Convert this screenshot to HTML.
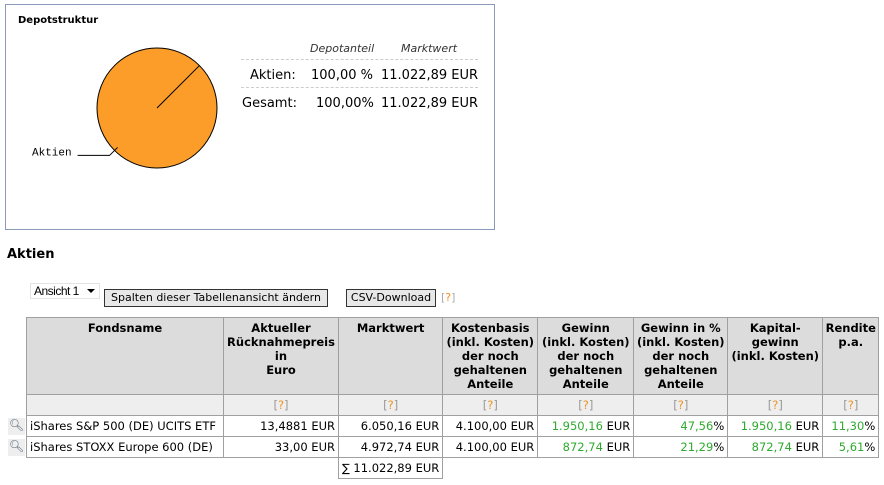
<!DOCTYPE html>
<html><head><meta charset="utf-8">
<style>
body{margin:0;width:884px;height:485px;background:#fff;font-family:"DejaVu Sans","Liberation Sans",sans-serif;position:relative;overflow:hidden;color:#000}
.abs{position:absolute}
#box{left:5px;top:4px;width:488px;height:224px;border:1px solid #8a9ab8}
.dt{font-size:13px;position:absolute;white-space:nowrap}
table#main{position:absolute;left:26px;top:317px;border-collapse:collapse;table-layout:fixed;font-size:11.5px}
#main td,#main th{border:1px solid #a0a0a0;padding:0 3px;white-space:nowrap;overflow:hidden}
#main th{background:#dcdcdc;font-weight:bold;vertical-align:top;text-align:center;line-height:14px;padding:3px 0 0 0;font-size:11.5px}
#main tr.sub td{background:#eeeeee;text-align:center;color:#999;height:20px}
#main tr.d td{height:20px;text-align:right}
.q{color:#aaa}.q b{color:#f0901e;font-weight:normal}
.g{color:#2daa2d}
.btn{position:absolute;border:1px solid #333;background:#e8e8e8;font-size:11px;line-height:16px;padding:0 4px;box-sizing:border-box;white-space:nowrap;text-align:center}
</style></head><body>
<div id="box" class="abs"></div>
<div class="abs" style="left:18px;top:15px;font-size:10px;font-weight:bold">Depotstruktur</div>
<svg class="abs" style="left:0;top:0" width="240" height="200" id="pie"></svg>
<div class="dt" style="left:310px;top:42px;font-style:italic;font-size:11px;color:#333">Depotanteil</div>
<div class="dt" style="left:401px;top:42px;font-style:italic;font-size:11px;color:#333">Marktwert</div>
<div class="abs" style="left:241px;top:59px;width:237px;border-top:1px dashed #ccc"></div>
<div class="dt" style="left:250px;top:68px">Aktien:</div>
<div class="dt" style="left:311px;top:68px">100,00 %</div>
<div class="dt" style="left:381px;top:68px">11.022,89 EUR</div>
<div class="abs" style="left:241px;top:87px;width:237px;border-top:1px dashed #ccc"></div>
<div class="dt" style="left:242px;top:96px">Gesamt:</div>
<div class="dt" style="left:316px;top:96px">100,00%</div>
<div class="dt" style="left:381px;top:96px">11.022,89 EUR</div>

<div class="abs" style="left:7px;top:247px;font-size:13px;font-weight:bold">Aktien</div>
<div class="abs" style="left:30px;top:283px;width:70px;height:16px;border:1px solid #e4e4e4;font-family:'Liberation Sans',sans-serif;font-size:12px;line-height:15px;padding-left:3px;box-sizing:border-box;letter-spacing:-0.5px">Ansicht 1 <span style="position:absolute;right:4px;top:5px;border-left:4px solid transparent;border-right:4px solid transparent;border-top:4px solid #000"></span></div>
<div class="btn" style="left:104px;top:289px;width:224px;height:18px">Spalten dieser Tabellenansicht ändern</div>
<div class="btn" style="left:346px;top:289px;width:90px;height:18px;padding:0">CSV-Download</div>
<div class="abs q" style="left:441px;top:291px;font-size:11px">[<b>?</b>]</div>

<div class="abs" style="left:8px;top:418px;width:17px;height:17px;background:#eee;font-size:12px;color:#567;text-align:center">🔍︎</div>
<div class="abs" style="left:8px;top:439px;width:17px;height:17px;background:#eee;font-size:12px;color:#567;text-align:center">🔍︎</div>

<table id="main">
<colgroup><col style="width:197px"><col style="width:115px"><col style="width:103px"><col style="width:95px"><col style="width:96px"><col style="width:94px"><col style="width:95px"><col style="width:56px"></colgroup>
<tr style="height:77px">
<th>Fondsname</th>
<th>Aktueller<br>Rücknahmepreis<br>in<br>Euro</th>
<th>Marktwert</th>
<th>Kostenbasis<br>(inkl. Kosten)<br>der noch<br>gehaltenen<br>Anteile</th>
<th>Gewinn<br>(inkl. Kosten)<br>der noch<br>gehaltenen<br>Anteile</th>
<th>Gewinn in %<br>(inkl. Kosten)<br>der noch<br>gehaltenen<br>Anteile</th>
<th>Kapital-<br>gewinn<br>(inkl. Kosten)</th>
<th>Rendite<br>p.a.</th>
</tr>
<tr class="sub"><td></td><td class="q">[<b>?</b>]</td><td class="q">[<b>?</b>]</td><td class="q">[<b>?</b>]</td><td class="q">[<b>?</b>]</td><td class="q">[<b>?</b>]</td><td class="q">[<b>?</b>]</td><td class="q">[<b>?</b>]</td></tr>
<tr class="d"><td style="text-align:left">iShares S&amp;P 500 (DE) UCITS ETF</td><td>13,4881 EUR</td><td>6.050,16 EUR</td><td>4.100,00 EUR</td><td><span class="g">1.950,16</span> EUR</td><td><span class="g">47,56</span>%</td><td><span class="g">1.950,16</span> EUR</td><td><span class="g">11,30</span>%</td></tr>
<tr class="d"><td style="text-align:left">iShares STOXX Europe 600 (DE)</td><td>33,00 EUR</td><td>4.972,74 EUR</td><td>4.100,00 EUR</td><td><span class="g">872,74</span> EUR</td><td><span class="g">21,29</span>%</td><td><span class="g">872,74</span> EUR</td><td><span class="g">5,61</span>%</td></tr>
<tr class="d"><td style="border:none"></td><td style="border:none;border-right:1px solid #a0a0a0"></td><td>∑ 11.022,89 EUR</td><td style="border:none;border-left:1px solid #a0a0a0"></td><td style="border:none"></td><td style="border:none"></td><td style="border:none"></td><td style="border:none"></td></tr>
</table>

<script>
const labels = ["Aktien"];
const values = [100];
const svg = document.getElementById('pie');
const NS = 'http://www.w3.org/2000/svg';
const cx = 157, cy = 108, r = 60;
const total = values.reduce((a, b) => a + b, 0);
let ang = -Math.PI / 4;
values.forEach((v, i) => {
  const frac = v / total;
  const a2 = ang + frac * 2 * Math.PI;
  let el;
  if (frac >= 0.9999) {
    el = document.createElementNS(NS, 'circle');
    el.setAttribute('cx', cx); el.setAttribute('cy', cy); el.setAttribute('r', r);
  } else {
    el = document.createElementNS(NS, 'path');
    const large = frac > 0.5 ? 1 : 0;
    el.setAttribute('d', `M${cx},${cy} L${cx + r * Math.cos(ang)},${cy + r * Math.sin(ang)} A${r},${r} 0 ${large} 1 ${cx + r * Math.cos(a2)},${cy + r * Math.sin(a2)} Z`);
  }
  el.setAttribute('fill', '#fb9d28');
  el.setAttribute('stroke', '#000');
  el.setAttribute('stroke-width', '1');
  
  
  svg.appendChild(el);
  const ln = document.createElementNS(NS, 'line');
  ln.setAttribute('x1', cx); ln.setAttribute('y1', cy);
  ln.setAttribute('x2', cx + r * Math.cos(ang)); ln.setAttribute('y2', cy + r * Math.sin(ang));
  ln.setAttribute('stroke', '#000');
  svg.appendChild(ln);
  const mid = ang + frac * Math.PI;
  const lx = cx + r * Math.cos(mid), ly = cy + r * Math.sin(mid);
  const lead = document.createElementNS(NS, 'polyline');
  lead.setAttribute('points', `${lx + 3},${ly - 3} ${lx - 5},${ly + 5} ${lx - 37},${ly + 5}`);
  lead.setAttribute('fill', 'none'); lead.setAttribute('stroke', '#000');
  svg.appendChild(lead);
  const t = document.createElementNS(NS, 'text');
  t.setAttribute('x', 32); t.setAttribute('y', ly + 5);
  t.setAttribute('font-family', 'Liberation Mono, monospace');
  t.setAttribute('font-size', '11');
  t.textContent = labels[i];
  
  
  svg.appendChild(t);
  ang = a2;
});
</script>
</body></html>
